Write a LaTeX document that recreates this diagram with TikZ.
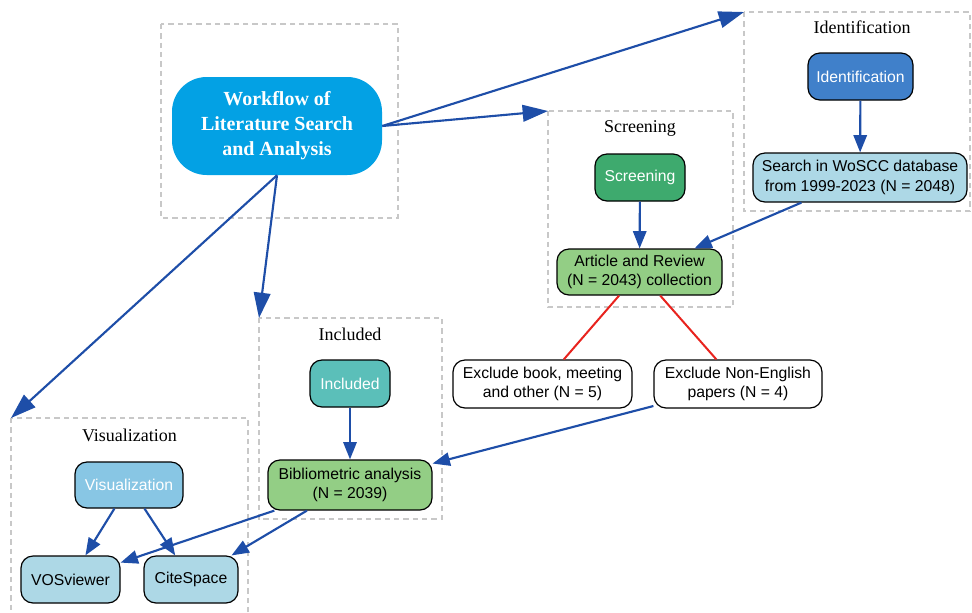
\documentclass[tikz,border=0pt]{standalone}
\usepackage{fontspec}
\setmainfont{Liberation Serif}
\newfontfamily\boxfont{Liberation Sans}
\usetikzlibrary{arrows.meta}

\definecolor{flowblue}{RGB}{30,78,168}
\definecolor{cutred}{RGB}{232,35,30}
\definecolor{clustergray}{RGB}{200,200,200}
\definecolor{mainblue}{RGB}{3,161,228}
\definecolor{identblue}{RGB}{64,128,202}
\definecolor{paleblue}{RGB}{173,216,230}
\definecolor{skyfill}{RGB}{136,198,228}
\definecolor{screengreen}{RGB}{62,170,110}
\definecolor{palegreen}{RGB}{147,206,133}
\definecolor{inclteal}{RGB}{91,191,185}

\tikzset{
  stage/.style={draw=black,line width=0.9pt,rounded corners=9pt,align=center,
    inner sep=0pt,font=\boxfont\fontsize{11.8}{14.4}\selectfont},
  headstage/.style={stage,text=white},
  cluster/.style={draw=clustergray,dash pattern=on 4pt off 3pt,line width=0.8pt},
  clustertitle/.style={font=\fontsize{13.5}{16}\selectfont},
  flow/.style={->,draw=flowblue,line width=1.6pt,>={Triangle[length=13pt,width=10pt]}},
  bigflow/.style={flow,>={Triangle[length=19pt,width=12.5pt]}},
  cut/.style={draw=cutred,line width=1.5pt},
}

\begin{document}
\begin{tikzpicture}[x=0.75pt,y=-0.75pt]
\useasboundingbox (0,0) rectangle (972,612);

%% cluster frames (pixel grid)
\draw[cluster] (161,24) rectangle (398,218);
\draw[cluster] (744,12) coordinate (idNW) rectangle (970,211);
\draw[cluster] (548,111) coordinate (scNW) rectangle (733,307);
\draw[cluster] (259,318) coordinate (inNW) rectangle (442,519);
\draw[cluster] (11,418) coordinate (viNW) rectangle (248,616);

%% cluster titles
\node[clustertitle] (idtitle) at (862,27) {Identification};
\node[clustertitle] (sctitle) at (640,128) {Screening};
\node[clustertitle] (intitle) at (350,334) {Included};
\node[clustertitle] (vititle) at (129.5,435) {Visualization};

%% main node
\node[fill=mainblue,text=white,rounded corners=26pt,align=center,inner sep=0pt,
  minimum width=157.5pt,minimum height=73.5pt,
  font=\bfseries\fontsize{15}{18.75}\selectfont] (wf) at (277,126)
  {Workflow of\\Literature Search\\and Analysis};

%% Identification
\node[headstage,fill=identblue,minimum width=78.75pt,minimum height=35.25pt] (ident) at (860.5,76.5) {Identification};
\node[stage,fill=paleblue,minimum width=160.5pt,minimum height=36.75pt] (search) at (860,177.5) {Search in WoSCC database\\from 1999-2023 (N = 2048)};

%% Screening
\node[headstage,fill=screengreen,minimum width=67.5pt,minimum height=35.25pt] (screen) at (640,177.5) {Screening};
\node[stage,fill=palegreen,minimum width=123.75pt,minimum height=34.5pt] (article) at (639.5,272) {Article and Review\\(N = 2043) collection};

%% excluded records
\node[stage,fill=white,minimum width=134.25pt,minimum height=36pt] (exbook) at (542.5,384) {Exclude book, meeting\\and other (N = 5)};
\node[stage,fill=white,minimum width=126pt,minimum height=36pt] (exlang) at (738,384) {Exclude Non-English\\papers (N = 4)};

%% Included
\node[headstage,fill=inclteal,minimum width=60pt,minimum height=35.25pt] (incl) at (350,383.5) {Included};
\node[stage,fill=palegreen,minimum width=123pt,minimum height=37.5pt] (biblio) at (350,485) {Bibliometric analysis\\(N = 2039)};

%% Visualization
\node[headstage,fill=skyfill,minimum width=81pt,minimum height=34.5pt] (vis) at (129,485) {Visualization};
\node[stage,fill=paleblue,minimum width=74.25pt,minimum height=35.25pt] (vos) at (70.5,579.5) {VOSviewer};
\node[stage,fill=paleblue,minimum width=70.5pt,minimum height=35.25pt] (cite) at (191,579.5) {CiteSpace};

%% connectors
\draw[bigflow] (wf.east) -- (idNW);
\draw[bigflow] (wf.east) -- (scNW);
\draw[bigflow] (wf.south) -- (inNW);
\draw[bigflow] (wf.south) -- (viNW);

\draw[flow] (ident) -- (search);
\draw[flow] (search) -- (article);
\draw[flow] (screen) -- (article);
\draw[cut] (article) -- (exbook);
\draw[cut] (article) -- (exlang);
\draw[flow] (exlang) -- (biblio);
\draw[flow] (incl) -- (biblio);
\draw[flow] (biblio) -- (vos);
\draw[flow] (biblio) -- (cite);
\draw[flow] (vis) -- (vos);
\draw[flow] (vis) -- (cite);

\end{tikzpicture}
\end{document}
